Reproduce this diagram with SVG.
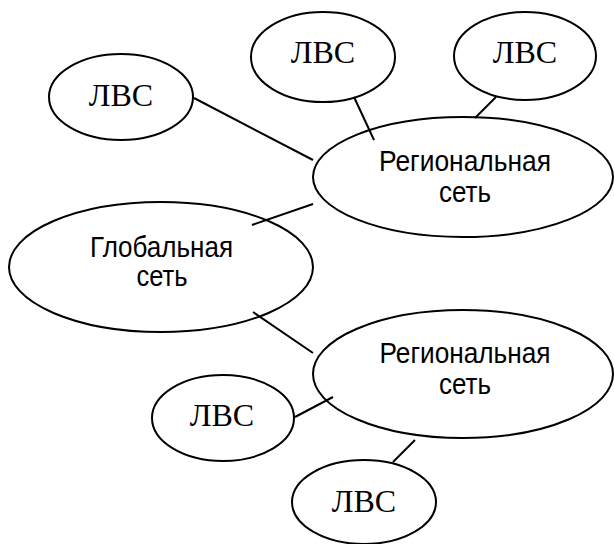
<svg xmlns="http://www.w3.org/2000/svg" width="614" height="544" viewBox="0 0 614 544">
<style>
.n{fill:#fff;stroke:#000;stroke-width:2}
.c line{stroke:#000;stroke-width:2}
.s{font-family:"Liberation Serif","Times New Roman",serif;font-size:32px;text-anchor:middle;fill:#000}
.a{font-family:"Liberation Sans",Arial,sans-serif;font-size:29px;text-anchor:middle;fill:#000}
</style>
<rect width="614" height="544" fill="#fff"/>
<g id="nodes-shapes">
<g id="lan1"><ellipse class="n" cx="323" cy="57" rx="72" ry="45"/><text class="s" x="323" y="63">ЛВС</text></g>
<g id="lan2"><ellipse class="n" cx="525" cy="56" rx="71" ry="44"/><text class="s" x="525" y="63">ЛВС</text></g>
<g id="lan3"><ellipse class="n" cx="121" cy="97" rx="72" ry="43"/><text class="s" x="121" y="106">ЛВС</text></g>
<g id="reg1"><ellipse class="n" cx="463" cy="177" rx="150" ry="60"/><text class="a" x="465" y="171" textLength="172" lengthAdjust="spacingAndGlyphs">Региональная</text><text class="a" x="465" y="202" textLength="52" lengthAdjust="spacingAndGlyphs">сеть</text></g>
<g id="global"><ellipse class="n" cx="161" cy="267" rx="152" ry="65"/><text class="a" x="161.5" y="257" textLength="143" lengthAdjust="spacingAndGlyphs">Глобальная</text><text class="a" x="162" y="286" textLength="51" lengthAdjust="spacingAndGlyphs">сеть</text></g>
<g id="reg2"><ellipse class="n" cx="463" cy="374" rx="150" ry="64"/><text class="a" x="465" y="363" textLength="171" lengthAdjust="spacingAndGlyphs">Региональная</text><text class="a" x="465" y="394" textLength="52" lengthAdjust="spacingAndGlyphs">сеть</text></g>
<g id="lan4"><ellipse class="n" cx="223" cy="418" rx="71" ry="43"/><text class="s" x="222" y="426">ЛВС</text></g>
<g id="lan5"><ellipse class="n" cx="364" cy="502" rx="72" ry="42"/><text class="s" x="364" y="512">ЛВС</text></g>
</g>
<g id="connectors" class="c">
<line x1="194" y1="98" x2="313" y2="160"/>
<line x1="354" y1="97" x2="374" y2="140"/>
<line x1="496" y1="97" x2="475" y2="118"/>
<line x1="252" y1="225" x2="313" y2="204"/>
<line x1="253" y1="312" x2="313" y2="353"/>
<line x1="295" y1="417" x2="333" y2="397"/>
<line x1="393" y1="462" x2="415" y2="440"/>
</g>
</svg>
